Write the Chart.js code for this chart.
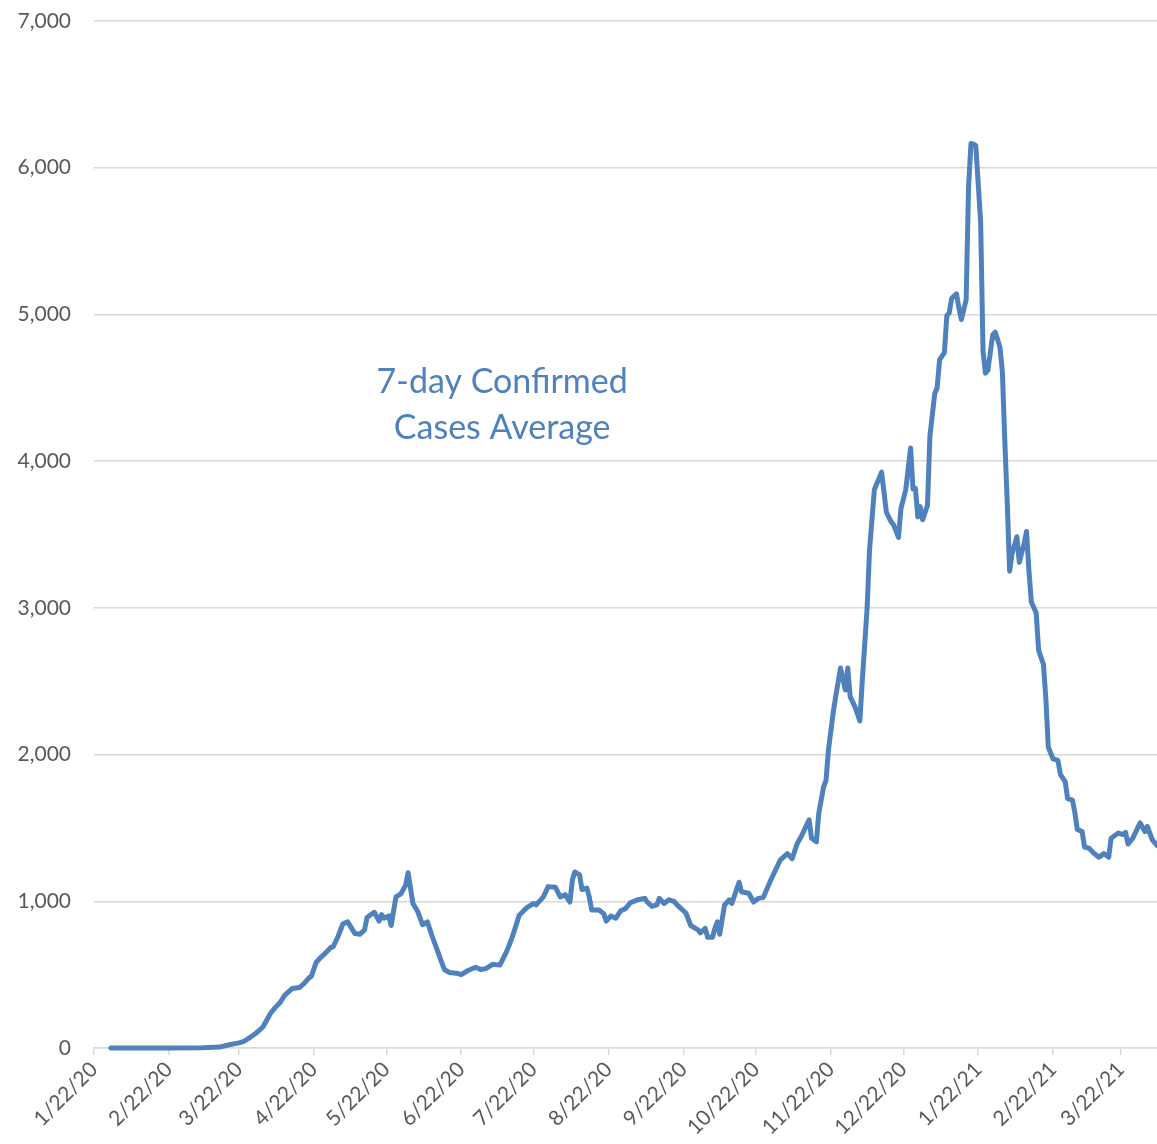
<!DOCTYPE html>
<html>
<head>
<meta charset="utf-8">
<script src="https://cdn.jsdelivr.net/npm/chart.js@4.4.1/dist/chart.umd.min.js"></script>
<style>
  html, body { margin: 0; padding: 0; background: #fff; }
  #wrap { width: 1157px; height: 1144px; }
</style>
</head>
<body>
<div id="wrap"><canvas id="casesChart" width="1157" height="1144"></canvas></div>
<script>
// day number counted from 1/22/20, with the 7-day average for that day
const days = [
  7, 30, 45, 52, 56, 60, 62, 64, 67, 70, 73, 75, 77, 79, 82, 85, 87, 89, 90, 92,
  94, 96, 98, 99, 101, 103, 105, 108, 110, 112, 113, 116, 118, 119, 120, 122, 123, 125, 127, 129,
  130, 132, 134, 136, 138, 140, 142, 143, 145, 147, 150, 152, 155, 158, 160, 162, 165, 168, 171, 173,
  174, 176, 179, 182, 183, 186, 188, 191, 193, 195, 197, 198, 199, 201, 202, 204, 205, 206, 209, 211,
  212, 214, 216, 218, 220, 222, 225, 228, 229, 231, 233, 234, 236, 238, 240, 242, 245, 247, 250, 251,
  253, 254, 256, 257, 258, 259, 261, 263, 264, 267, 268, 271, 273, 275, 277, 280, 284, 287, 289, 291,
  293, 296, 297, 299, 300, 302, 303, 304, 306, 307, 309, 311, 312, 313, 315, 317, 318, 320, 321, 323,
  326, 328, 330, 331, 333, 334, 336, 338, 339, 340, 341, 342, 343, 345, 346, 348, 349, 350, 352, 353,
  354, 355, 357, 358, 359, 361, 362, 363, 364, 365, 366, 367, 368, 369, 370, 372, 373, 374, 375, 376,
  377, 378, 379, 380, 382, 383, 385, 386, 387, 388, 390, 391, 393, 394, 395, 397, 399, 400, 402, 403,
  405, 406, 407, 409, 410, 412, 414, 416, 418, 420, 421, 424, 426, 427, 428, 430, 432, 433, 435, 436,
  438, 440
];
const cases = [
  0, 0, 2, 6, 22, 35, 45, 65, 100, 145, 235, 275, 310, 360, 405, 412, 440, 478, 490, 585,
  620, 650, 685, 690, 760, 845, 860, 780, 775, 805, 890, 925, 865, 910, 885, 900, 835, 1030, 1050, 1110,
  1195, 985, 930, 840, 860, 760, 670, 625, 535, 515, 510, 500, 530, 550, 535, 540, 570, 565, 665, 750,
  800, 905, 955, 985, 975, 1030, 1100, 1095, 1030, 1045, 995, 1145, 1200, 1180, 1080, 1090, 1030, 940, 940, 915,
  865, 900, 885, 935, 950, 990, 1010, 1020, 995, 965, 975, 1020, 985, 1010, 1000, 965, 920, 835, 805, 785,
  815, 755, 755, 815, 860, 775, 975, 1010, 985, 1130, 1065, 1055, 995, 1020, 1025, 1140, 1280, 1325, 1290, 1390,
  1450, 1555, 1430, 1405, 1600, 1780, 1825, 2030, 2290, 2395, 2590, 2440, 2590, 2395, 2325, 2230, 2500, 2995, 3390, 3805,
  3925, 3650, 3585, 3565, 3480, 3675, 3805, 4090, 3810, 3815, 3620, 3690, 3600, 3700, 4170, 4460, 4500, 4690, 4740, 4990,
  5010, 5110, 5140, 5045, 4965, 5100, 5870, 6165, 6160, 6150, 5890, 5630, 4745, 4600, 4620, 4860, 4880, 4830, 4775, 4610,
  4140, 3720, 3250, 3370, 3485, 3310, 3440, 3520, 3250, 3040, 2965, 2710, 2615, 2380, 2050, 1970, 1960, 1865, 1815, 1700,
  1690, 1605, 1490, 1475, 1370, 1360, 1325, 1300, 1325, 1300, 1430, 1465, 1455, 1470, 1390, 1430, 1500, 1535, 1475, 1510,
  1420, 1380
];

// monthly date ticks (day numbers and their labels)
const tickDays = [0, 31, 60, 91, 121, 152, 182, 213, 244, 274, 305, 335, 366, 397, 425];
const tickLabels = [
  '1/22/20', '2/22/20', '3/22/20', '4/22/20', '5/22/20', '6/22/20', '7/22/20', '8/22/20',
  '9/22/20', '10/22/20', '11/22/20', '12/22/20', '1/22/21', '2/22/21', '3/22/21'
];

const captionLines = ['7-day Confirmed', 'Cases Average'];

const blue = '#4f81bd';
const gridGray = '#d9d9d9';
const textGray = '#595959';

// floating text box inside the plot
const captionPlugin = {
  id: 'caption',
  afterDatasetsDraw(chart) {
    const { ctx, chartArea } = chart;
    const cx = chartArea.left + chartArea.width * 0.384;
    ctx.save();
    ctx.font = '34px Lato';
    ctx.fillStyle = blue;
    ctx.textAlign = 'center';
    ctx.textBaseline = 'alphabetic';
    ctx.fillText(captionLines[0], cx, chartArea.top + 372);
    ctx.fillText(captionLines[1], cx, chartArea.top + 418);
    ctx.restore();
  }
};

const ctx = document.getElementById('casesChart');

new Chart(ctx, {
  type: 'line',
  data: {
    datasets: [{
      label: '7-day Confirmed Cases Average',
      data: days.map((d, i) => ({ x: d, y: cases[i] })),
      borderColor: blue,
      borderWidth: 5,
      pointRadius: 0,
      tension: 0,
      fill: false,
      clip: false,
      borderJoinStyle: 'round',
      borderCapStyle: 'round'
    }]
  },
  options: {
    responsive: false,
    animation: false,
    layout: { padding: { top: 21, right: 0, bottom: 0, left: 0 } },
    plugins: {
      legend: { display: false },
      tooltip: { enabled: false }
    },
    scales: {
      x: {
        type: 'linear',
        min: 0,
        max: 440,
        afterBuildTicks: (scale) => {
          scale.ticks = tickDays.map(v => ({ value: v }));
        },
        afterFit: (scale) => { scale.height = 96; },
        ticks: {
          autoSkip: false,
          minRotation: 45,
          maxRotation: 45,
          padding: 2,
          color: textGray,
          font: { family: 'Lato', size: 21 },
          callback: (value, index) => tickLabels[index]
        },
        grid: {
          drawOnChartArea: false,
          drawTicks: true,
          tickLength: 7,
          color: gridGray,
          lineWidth: 1.5
        },
        border: { color: gridGray, width: 1.5 }
      },
      y: {
        min: 0,
        max: 7000,
        afterFit: (scale) => { scale.width = 94; },
        ticks: {
          stepSize: 1000,
          padding: 0,
          color: textGray,
          font: { family: 'Lato', size: 21 },
          callback: (value) => value.toLocaleString('en-US')
        },
        grid: {
          color: gridGray,
          lineWidth: 1.5,
          // invisible tick marks keep the labels clear of the plot
          drawTicks: true,
          tickLength: 23,
          tickColor: 'rgba(0,0,0,0)'
        },
        border: { display: false }
      }
    }
  },
  plugins: [captionPlugin]
});
</script>
</body>
</html>
